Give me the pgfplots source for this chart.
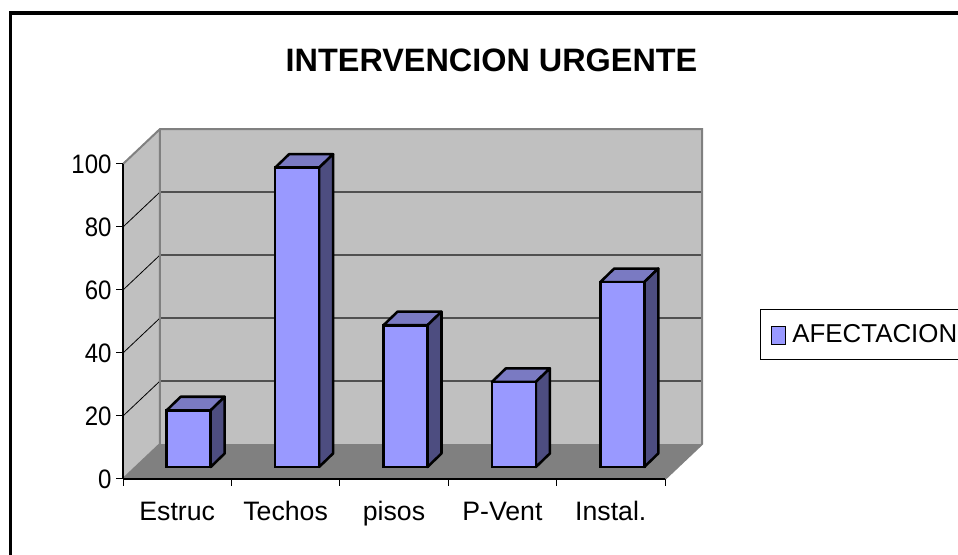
\documentclass[border=0pt]{standalone}
\usepackage{pgfplots}
\pgfplotsset{compat=1.18}
\usepackage{fontspec}
\setmainfont{Liberation Sans}
\definecolor{wall}{HTML}{C0C0C0}
\definecolor{floorc}{HTML}{808080}
\definecolor{barf}{HTML}{9999FF}
\definecolor{bart}{HTML}{7A7AC2}
\definecolor{bars}{HTML}{4D4D80}
\definecolor{gridc}{HTML}{505050}
\newcommand\dx{0.3413}
\newcommand\dy{11.1}
% top and side faces of a bar at category centre #1 with value #2
\newcommand\barfaces[2]{%
  \pgfmathsetmacro\xa{#1-0.203}%
  \pgfmathsetmacro\xb{#1+0.203}%
  \pgfmathsetmacro\xc{\xa+0.129}%
  \pgfmathsetmacro\xd{\xb+0.129}%
  \pgfmathsetmacro\yt{#2+4.3}%
  \edef\tmp{\noexpand\addplot[forget plot,fill=bart,draw=black,line width=1.9pt,line join=round,xshift=8.625pt,yshift=9pt]
    coordinates {(\xa,#2)(\xb,#2)(\xd,\yt)(\xc,\yt)} --cycle;
    \noexpand\addplot[forget plot,fill=bars,draw=black,line width=1.9pt,line join=round,xshift=8.625pt,yshift=9pt]
    coordinates {(\xb,0)(\xb,#2)(\xd,\yt)(\xd,4.3)} --cycle;}%
  \tmp}
\begin{document}
\begin{tikzpicture}
\path[use as bounding box] (0,0) rectangle (718.5pt,416.25pt);
\clip (0,0) rectangle (718.5pt,416.25pt);
\draw[line width=2.4pt,black] (8pt,-10pt) -- (8pt,406.5pt) -- (730pt,406.5pt);
\begin{axis}[
  at={(92.25pt,57pt)},anchor=south west,
  x=81.3pt,y=2.3625pt,
  xmin=0,xmax=5,ymin=0,ymax=100,
  clip=false,axis on top,
  axis x line=bottom,axis y line=left,
  axis line style={-,black,line width=0.9pt},
  xtick={0,1,2,3,4,5},
  xticklabels={Estruc,Techos,pisos,P-Vent,Instal.},
  x tick label as interval,
  ytick={0,20,40,60,80,100},
  major tick length=5pt,
  tick style={black,line width=0.75pt},
  tick align=outside,
  /pgf/number format/assume math mode=true,
  xticklabel style={font=\fontsize{20}{24}\selectfont,yshift=-8.5pt,text height=14pt,text depth=1pt},
  yticklabel style={font=\fontsize{20}{24}\selectfont,xscale=0.9,xshift=-0.5pt},
  title={\textbf{INTERVENCION URGENTE}},
  title style={at={(0.68,1.305)},anchor=center,font=\fontsize{24.3}{28}\selectfont},
  legend style={at={(1.175,0.459)},anchor=west,draw=black,line width=0.6pt,fill=white,
    font=\fontsize{19.4}{23}\selectfont,inner xsep=8pt,inner ysep=9pt,
    legend cell align=left,nodes={yshift=3pt},
    /tikz/every odd column/.style={column sep=2.5pt}},
  legend image code/.code={\draw[fill=barf,draw=black,line width=1.1pt] (0.05cm,-0.47cm) rectangle (0.42cm,0cm);},
]
% walls and floor
\addplot[forget plot,fill=wall,draw=none] coordinates {(0,0)(\dx,\dy)(\dx,111.1)(0,100)} --cycle;
\addplot[forget plot,fill=wall,draw=none] coordinates {(\dx,\dy)(5.3413,\dy)(5.3413,111.1)(\dx,111.1)} --cycle;
\addplot[forget plot,fill=floorc,draw=none] coordinates {(0,0)(5,0)(5.3413,\dy)(\dx,\dy)} --cycle;
% grid
\addplot[forget plot,black,line width=0.6pt] coordinates {(0,20)(\dx,31.1)};
\addplot[forget plot,black,line width=0.6pt] coordinates {(0,40)(\dx,51.1)};
\addplot[forget plot,black,line width=0.6pt] coordinates {(0,60)(\dx,71.1)};
\addplot[forget plot,black,line width=0.6pt] coordinates {(0,80)(\dx,91.1)};
\addplot[forget plot,gridc,line width=0.9pt] coordinates {(\dx,31.1)(5.3413,31.1)};
\addplot[forget plot,gridc,line width=0.9pt] coordinates {(\dx,51.1)(5.3413,51.1)};
\addplot[forget plot,gridc,line width=0.9pt] coordinates {(\dx,71.1)(5.3413,71.1)};
\addplot[forget plot,gridc,line width=0.9pt] coordinates {(\dx,91.1)(5.3413,91.1)};
% wall edges
\addplot[forget plot,floorc,line width=1.5pt] coordinates {(0,100)(\dx,111.1)(5.3413,111.1)(5.3413,\dy)(5,0)};
\addplot[forget plot,floorc,line width=1.5pt] coordinates {(\dx,111.1)(\dx,\dy)(0,0)};
% bars
\barfaces{0.5}{18}
\barfaces{1.5}{95}
\barfaces{2.5}{45}
\barfaces{3.5}{27}
\barfaces{4.5}{58.7}
\addplot[ybar,bar width=33pt,bar shift=0pt,fill=barf,draw=black,line width=1.9pt,xshift=8.625pt,yshift=9pt]
  coordinates {(0.5,18)(1.5,95)(2.5,45)(3.5,27)(4.5,58.7)};
\addlegendentry{AFECTACION}
\end{axis}
\end{tikzpicture}
\end{document}
